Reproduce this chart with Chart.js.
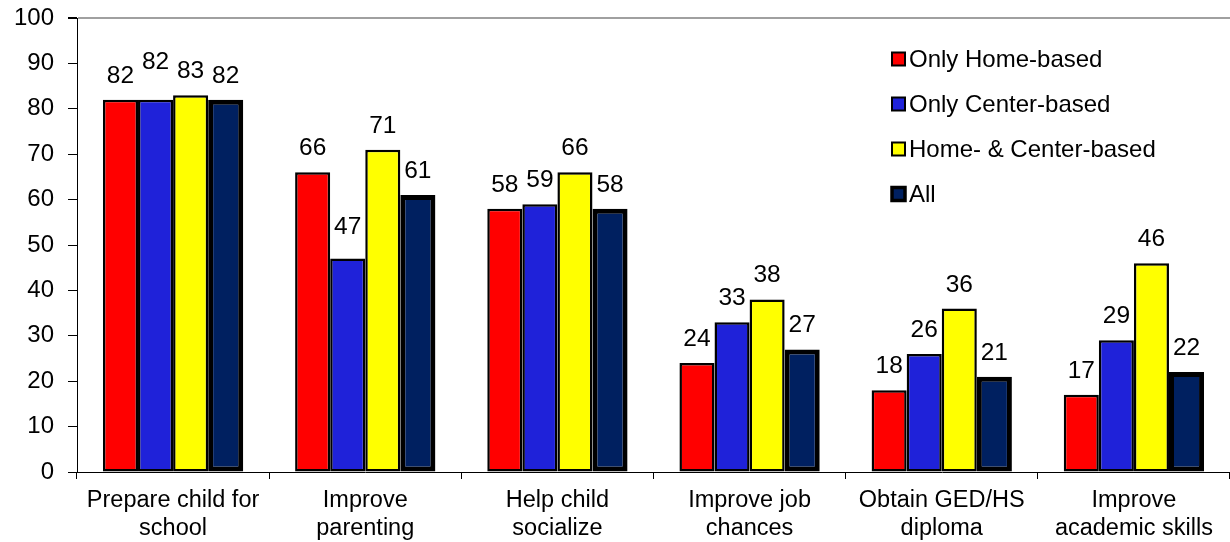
<!DOCTYPE html>
<html>
<head>
<meta charset="utf-8">
<script src="https://cdn.jsdelivr.net/npm/chart.js@4.4.1/dist/chart.umd.min.js"></script>
<style>
  html, body { margin: 0; padding: 0; background: #fff; }
  #wrap { width: 1230px; height: 542px; position: relative; }
</style>
</head>
<body>
<div id="wrap"><canvas id="c"></canvas></div>
<script>
const categories = [
  ["Prepare child for", "school"],
  ["Improve", "parenting"],
  ["Help child", "socialize"],
  ["Improve job", "chances"],
  ["Obtain GED/HS", "diploma"],
  ["Improve", "academic skills"]
];
const seriesNames = ["Only Home-based", "Only Center-based", "Home- & Center-based", "All"];
const onlyHome = [82, 66, 58, 24, 18, 17];
const onlyCenter = [82, 47, 59, 33, 26, 29];
const homeAndCenter = [83, 71, 66, 38, 36, 46];
const allFamilies = [82, 61, 58, 27, 21, 22];
const yTicks = [0, 10, 20, 30, 40, 50, 60, 70, 80, 90, 100];

const FONT = "'Liberation Sans', Arial, sans-serif";
const colors = ["#FF0000", "#1F22D9", "#FFFF00", "#002060"];
const borderWidths = [2.5, 2.5, 2.5, 5];
// extra lift for a few labels (dataset index -> {point index: px})
const labelLift = { 1: { 0: 14, 1: 8 } };

const seriesValues = [onlyHome, onlyCenter, homeAndCenter, allFamilies];

const dataLabels = {
  id: 'dataLabels',
  afterDatasetsDraw(chart) {
    const ctx = chart.ctx;
    ctx.save();
    ctx.font = "24.5px " + FONT;
    ctx.fillStyle = "#000";
    ctx.textAlign = "center";
    ctx.textBaseline = "alphabetic";
    chart.data.datasets.forEach((ds, di) => {
      const meta = chart.getDatasetMeta(di);
      meta.data.forEach((el, pi) => {
        const lift = (labelLift[di] && labelLift[di][pi]) || 0;
        ctx.fillText(String(ds.data[pi]), el.x, el.y - 17 - lift);
      });
    });
    ctx.restore();
  }
};

const customLegend = {
  id: 'customLegend',
  afterDraw(chart) {
    const ctx = chart.ctx;
    ctx.save();
    ctx.font = "24px " + FONT;
    ctx.textAlign = "left";
    ctx.textBaseline = "middle";
    chart.data.datasets.forEach((ds, i) => {
      const cy = 59 + 45 * i;
      const bx = 892, size = 13;
      ctx.fillStyle = ds.backgroundColor;
      ctx.fillRect(bx, cy - size / 2, size, size);
      ctx.strokeStyle = "#000";
      ctx.lineWidth = i === 3 ? 3.5 : 2;
      ctx.strokeRect(bx, cy - size / 2, size, size);
      ctx.fillStyle = "#000";
      ctx.fillText(ds.label, 909, cy + 1);
    });
    ctx.restore();
  }
};

new Chart(document.getElementById('c'), {
  type: 'bar',
  data: {
    labels: categories,
    datasets: seriesValues.map((vals, i) => ({
      label: seriesNames[i],
      data: vals,
      backgroundColor: colors[i],
      borderColor: "#000",
      borderWidth: borderWidths[i],
      borderSkipped: false,
      categoryPercentage: 0.73,
      barPercentage: 1.0
    }))
  },
  options: {
    responsive: true,
    maintainAspectRatio: false,
    animation: false,
    layout: { padding: { top: 0, right: 0, left: 0, bottom: 0 } },
    plugins: {
      legend: { display: false },
      tooltip: { enabled: false }
    },
    scales: {
      x: {
        grid: {
          offset: true,
          drawOnChartArea: false,
          drawTicks: true,
          tickLength: 7,
          tickColor: "#000",
          color: "#000"
        },
        border: { color: "#000", width: 1 },
        ticks: {
          color: "#000",
          font: { family: FONT, size: 23.5, lineHeight: 1.19 },
          padding: 8,
          maxRotation: 0,
          autoSkip: false
        },
        afterFit(scale) { scale.height = 70; }
      },
      y: {
        min: 0,
        max: 100,
        grid: {
          color: (c) => (c.tick && c.tick.value === 100) ? "#A0A0A0" : "rgba(0,0,0,0)",
          lineWidth: (c) => (c.tick && c.tick.value === 100) ? 2 : 1,
          tickColor: "#000",
          tickLength: 9
        },
        border: { color: "#000", width: 1 },
        afterBuildTicks(scale) { scale.ticks = yTicks.map(v => ({ value: v })); },
        ticks: {
          color: "#000",
          font: { family: FONT, size: 24, lineHeight: 0.75 },
          padding: 14
        },
        afterFit(scale) { scale.width = 77; scale.paddingTop = 18; }
      }
    }
  },
  plugins: [dataLabels, customLegend]
});
</script>
</body>
</html>
